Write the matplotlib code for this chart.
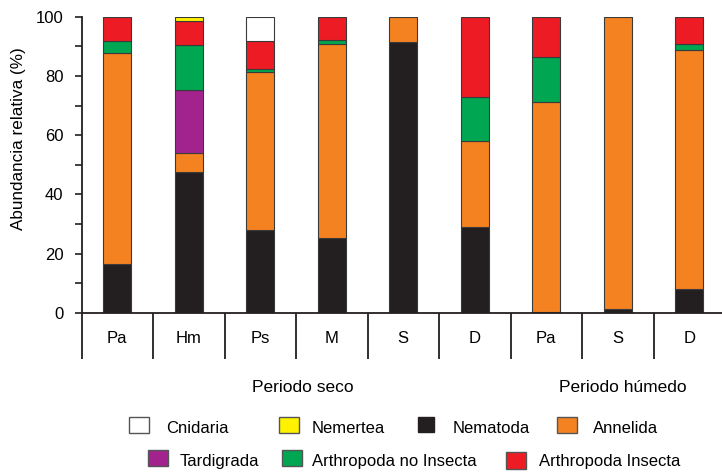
import matplotlib
matplotlib.use('Agg')
import matplotlib.pyplot as plt
from matplotlib.patches import Rectangle
from matplotlib.ticker import MultipleLocator
import numpy as np

plt.rcParams['font.family'] = ['Liberation Sans', 'DejaVu Sans']

# ---- data ----
categories = ['Pa', 'Hm', 'Ps', 'M', 'S', 'D', 'Pa', 'S', 'D']
periods = ['Periodo seco', 'Periodo húmedo']
taxa = ['Nematoda', 'Annelida', 'Tardigrada', 'Arthropoda no Insecta',
        'Arthropoda Insecta', 'Nemertea', 'Cnidaria']
nematoda = [16.4, 47.7, 28.0, 25.4, 91.6, 29.1, 0.5, 1.2, 8.0]
annelida = [71.5, 6.2, 53.3, 65.5, 8.4, 28.9, 70.8, 98.8, 80.9]
tardigrada = [0, 21.4, 0, 0, 0, 0, 0, 0, 0]
arthropoda_no_insecta = [4.0, 15.1, 1.0, 1.2, 0, 14.8, 15.2, 0, 1.8]
arthropoda_insecta = [8.1, 8.1, 9.6, 7.9, 0, 27.2, 13.5, 0, 9.3]
nemertea = [0, 1.5, 0, 0, 0, 0, 0, 0, 0]
cnidaria = [0, 0, 8.1, 0, 0, 0, 0, 0, 0]

series = [nematoda, annelida, tardigrada, arthropoda_no_insecta,
          arthropoda_insecta, nemertea, cnidaria]
colors = {'Nematoda': '#231F20', 'Annelida': '#F58220', 'Tardigrada': '#A3238E',
          'Arthropoda no Insecta': '#00A651', 'Arthropoda Insecta': '#ED1C24',
          'Nemertea': '#FFF200', 'Cnidaria': '#FFFFFF'}

W, H = 722, 472
fig = plt.figure(figsize=(W / 100, H / 100), dpi=100)

# axes placement in pixels
ax_left, ax_right, ax_top, ax_bottom = 81.5, 725.0, 16.7, 313.0
ax_w = ax_right - ax_left
ax_h = ax_bottom - ax_top
ax = fig.add_axes([ax_left / W, 1 - ax_bottom / H, ax_w / W, ax_h / H])

x = np.arange(len(categories))
bottom = np.zeros(len(categories))
for name, vals in zip(taxa, series):
    vals = np.array(vals, dtype=float)
    mask = vals > 0
    ax.bar(x[mask], vals[mask], bottom=bottom[mask], width=0.39,
           color=colors[name], edgecolor='#3a3a3a', linewidth=0.8, zorder=2)
    bottom += vals

ax.set_xlim(-0.5, len(categories) - 0.5)
ax.set_ylim(0, 100)

for s in ['top', 'right']:
    ax.spines[s].set_visible(False)
for s in ['left', 'bottom']:
    ax.spines[s].set_linewidth(1.3)
    ax.spines[s].set_color('#231F20')

ax.yaxis.set_major_locator(MultipleLocator(20))
ax.yaxis.set_minor_locator(MultipleLocator(10))
ax.tick_params(axis='y', which='both', direction='out', length=5, width=1.2,
               color='#231F20', labelsize=12, pad=8)
ax.set_xticks(x)
ax.set_xticklabels(categories)
ax.tick_params(axis='x', length=0, labelsize=12, pad=13)

# category separators below the axis
trans = ax.get_xaxis_transform()
sep_depth = (359 - 313) / ax_h
for b in np.arange(-0.5, len(categories) - 0.5, 1.0):
    ax.plot([b, b], [0, -sep_depth], transform=trans, color='#231F20',
            lw=1.3, clip_on=False, solid_capstyle='butt')

ax.set_ylabel('Abundancia relativa (%)', fontsize=12.3)
ax.yaxis.set_label_coords((26.0 - ax_left) / ax_w, (ax_bottom - 139) / ax_h)

def fx(px):
    return px / W

def fy(py):
    return 1 - py / H

fig.text(fx(303), fy(392), periods[0], fontsize=12.5, ha='center', va='baseline')
fig.text(fx(623), fy(392), periods[1], fontsize=12.5, ha='center', va='baseline')

# legend (manually placed)
legend_items = [
    ('Cnidaria', 129, 417, 20, 16, 166, 433),
    ('Nemertea', 279, 417, 20, 16, 312, 433),
    ('Nematoda', 418, 417, 16, 15, 453, 433),
    ('Annelida', 557, 417, 20, 16, 593, 433),
    ('Tardigrada', 148, 450, 20, 16, 180, 466),
    ('Arthropoda no Insecta', 282, 450, 20, 16, 312, 466),
    ('Arthropoda Insecta', 506, 452, 20, 17, 539, 466),
]
for name, bx, by, bw, bh, tx, ty in legend_items:
    ec = '#231F20' if name == 'Nematoda' else '#555555'
    rect = Rectangle((fx(bx), fy(by + bh)), bw / W, bh / H,
                     transform=fig.transFigure, facecolor=colors[name],
                     edgecolor=ec, linewidth=1.0)
    fig.patches.append(rect)
    fig.text(fx(tx), fy(ty), name, fontsize=12, ha='left', va='baseline')

fig.savefig('out.png', dpi=100)
